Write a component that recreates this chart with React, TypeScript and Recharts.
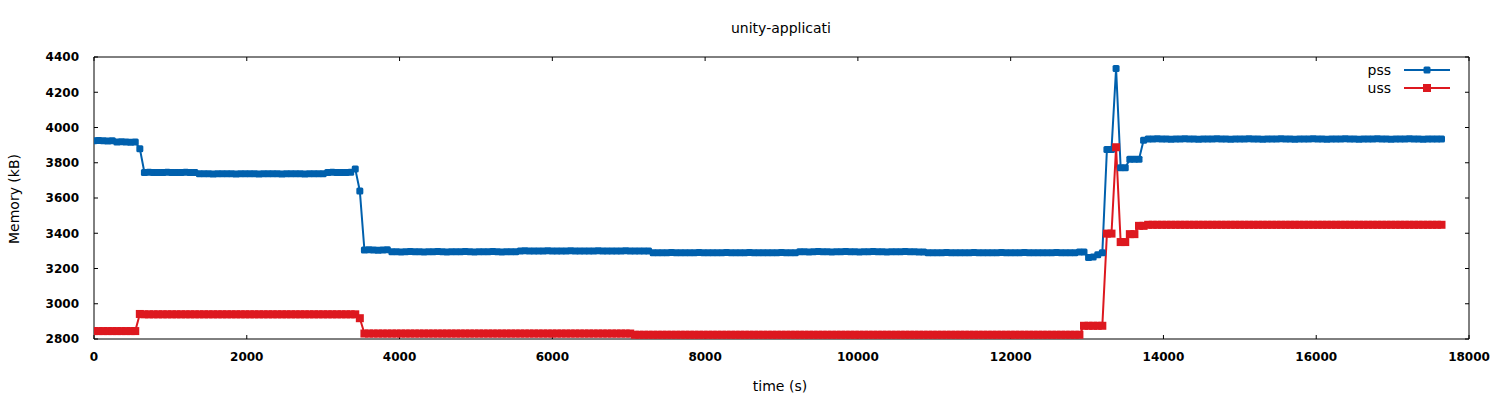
import React from 'react';
import { LineChart, Line, XAxis, YAxis } from 'recharts';

const PSS_COLOR = '#0060ad';
const USS_COLOR = '#dd181f';
const FONT = '"DejaVu Sans", sans-serif';

// one sample per minute (seconds between samples)
const SAMPLE_SECONDS = 60;

const pss = [
  3925, 3926, 3925, 3924, 3925, 3918, 3919, 3918, 3917, 3918,
  3880, 3745, 3746, 3745, 3744, 3745, 3746, 3745, 3744, 3745,
  3746, 3745, 3745, 3737, 3738, 3737, 3736, 3737, 3738, 3737,
  3737, 3736, 3737, 3738, 3737, 3737, 3736, 3737, 3738, 3737,
  3737, 3736, 3737, 3737, 3738, 3737, 3736, 3737, 3737, 3738,
  3737, 3745, 3746, 3745, 3744, 3745, 3746, 3765, 3640, 3305,
  3306, 3305, 3304, 3305, 3306, 3295, 3295, 3294, 3295, 3296,
  3295, 3295, 3294, 3295, 3295, 3296, 3295, 3294, 3295, 3295,
  3295, 3296, 3295, 3294, 3295, 3295, 3295, 3296, 3295, 3294,
  3295, 3295, 3295, 3300, 3301, 3300, 3299, 3300, 3300, 3301,
  3300, 3300, 3299, 3300, 3301, 3300, 3300, 3300, 3299, 3300,
  3301, 3300, 3300, 3299, 3300, 3300, 3301, 3300, 3300, 3299,
  3300, 3300, 3290, 3290, 3289, 3290, 3291, 3290, 3290, 3289,
  3290, 3290, 3291, 3290, 3289, 3290, 3290, 3290, 3291, 3290,
  3289, 3290, 3290, 3291, 3290, 3290, 3289, 3290, 3290, 3290,
  3291, 3290, 3289, 3290, 3295, 3295, 3294, 3295, 3296, 3295,
  3295, 3294, 3295, 3295, 3296, 3295, 3295, 3294, 3295, 3295,
  3296, 3295, 3295, 3294, 3295, 3295, 3295, 3296, 3295, 3295,
  3293, 3293, 3290, 3290, 3289, 3290, 3291, 3290, 3290, 3289,
  3290, 3290, 3291, 3290, 3289, 3290, 3290, 3290, 3291, 3290,
  3289, 3290, 3290, 3291, 3290, 3290, 3289, 3290, 3290, 3290,
  3291, 3290, 3289, 3290, 3290, 3293, 3293, 3262, 3265, 3278,
  3290, 3875, 3875, 4335, 3772, 3772, 3820, 3820, 3820, 3928,
  3935, 3935, 3936, 3935, 3935, 3934, 3935, 3935, 3936, 3935,
  3935, 3934, 3935, 3935, 3935, 3936, 3935, 3935, 3934, 3935,
  3935, 3935, 3936, 3935, 3935, 3934, 3935, 3935, 3935, 3936,
  3935, 3935, 3934, 3935, 3935, 3935, 3936, 3935, 3935, 3934,
  3935, 3935, 3935, 3936, 3935, 3935, 3934, 3935, 3935, 3935,
  3936, 3935, 3935, 3934, 3935, 3935, 3935, 3936, 3935, 3935,
  3934, 3935, 3935, 3935, 3935,
];

const uss = [
  2845, 2845, 2845, 2845, 2845, 2845, 2845, 2845, 2845, 2845,
  2942, 2940, 2940, 2940, 2940, 2940, 2940, 2940, 2940, 2940,
  2940, 2940, 2940, 2940, 2940, 2940, 2940, 2940, 2940, 2940,
  2940, 2940, 2940, 2940, 2940, 2940, 2940, 2940, 2940, 2940,
  2940, 2940, 2940, 2940, 2940, 2940, 2940, 2940, 2940, 2940,
  2940, 2940, 2940, 2940, 2940, 2940, 2940, 2940, 2918, 2831,
  2831, 2831, 2831, 2831, 2831, 2831, 2831, 2831, 2831, 2831,
  2831, 2831, 2831, 2831, 2831, 2831, 2831, 2831, 2831, 2831,
  2831, 2831, 2831, 2831, 2831, 2831, 2831, 2831, 2831, 2831,
  2831, 2831, 2831, 2831, 2831, 2831, 2831, 2831, 2831, 2831,
  2831, 2831, 2831, 2831, 2831, 2831, 2831, 2831, 2831, 2831,
  2831, 2831, 2831, 2831, 2831, 2831, 2831, 2831, 2824, 2824,
  2824, 2824, 2824, 2824, 2824, 2824, 2824, 2824, 2824, 2824,
  2824, 2824, 2824, 2824, 2824, 2824, 2824, 2824, 2824, 2824,
  2824, 2824, 2824, 2824, 2824, 2824, 2824, 2824, 2824, 2824,
  2824, 2824, 2824, 2824, 2824, 2824, 2824, 2824, 2824, 2824,
  2824, 2824, 2824, 2824, 2824, 2824, 2824, 2824, 2824, 2824,
  2824, 2824, 2824, 2824, 2824, 2824, 2824, 2824, 2824, 2824,
  2824, 2824, 2824, 2824, 2824, 2824, 2824, 2824, 2824, 2824,
  2824, 2824, 2824, 2824, 2824, 2824, 2824, 2824, 2824, 2824,
  2824, 2824, 2824, 2824, 2824, 2824, 2824, 2824, 2824, 2824,
  2824, 2824, 2824, 2824, 2824, 2824, 2875, 2875, 2875, 2875,
  2875, 3398, 3398, 3888, 3350, 3350, 3395, 3395, 3442, 3442,
  3448, 3448, 3448, 3448, 3448, 3448, 3448, 3448, 3448, 3448,
  3448, 3448, 3448, 3448, 3448, 3448, 3448, 3448, 3448, 3448,
  3448, 3448, 3448, 3448, 3448, 3448, 3448, 3448, 3448, 3448,
  3448, 3448, 3448, 3448, 3448, 3448, 3448, 3448, 3448, 3448,
  3448, 3448, 3448, 3448, 3448, 3448, 3448, 3448, 3448, 3448,
  3448, 3448, 3448, 3448, 3448, 3448, 3448, 3448, 3448, 3448,
  3448, 3448, 3448, 3448, 3448,
];

const timeTicks = [0, 2000, 4000, 6000, 8000, 10000, 12000, 14000, 16000, 18000];
const memoryTicks = [2800, 3000, 3200, 3400, 3600, 3800, 4000, 4200, 4400];

const data = pss.map((v, i) => ({ t: i * SAMPLE_SECONDS, pss: v, uss: uss[i] }));

const tickStyle = { fill: '#000', fontSize: 12, fontWeight: 'bold', fontFamily: FONT };
const blank = () => '';

// gnuplot-ish point shapes
const PssDot = (props: any) => {
  const { cx, cy, index } = props;
  if (cx == null || cy == null) return <g key={`pt-${index}`} />;
  return <rect key={`pt-${index}`} x={cx - 3.5} y={cy - 3.5} width={7} height={7} rx={1.5} fill={PSS_COLOR} />;
};

const SquareDot = (props: any) => {
  const { cx, cy, index } = props;
  if (cx == null || cy == null) return <g key={`sq-${index}`} />;
  return <rect key={`sq-${index}`} x={cx - 4} y={cy - 4} width={8} height={8} fill={USS_COLOR} />;
};

const labelStyle: React.CSSProperties = {
  position: 'absolute',
  fontFamily: FONT,
  fontSize: 14,
  color: '#000',
  lineHeight: '16px',
  whiteSpace: 'nowrap',
};

export default function App() {
  return (
    <div style={{ position: 'absolute', left: 0, top: 0, width: 1500, height: 400, background: '#fff' }}>
      <LineChart width={1500} height={400} data={data} margin={{ top: 56, right: 30, bottom: 21, left: 0 }}>
        <XAxis
          dataKey="t"
          type="number"
          domain={[0, 18000]}
          ticks={timeTicks}
          height={40}
          stroke="#000"
          tickSize={-4}
          tickMargin={17}
          tick={tickStyle}
          allowDataOverflow
        />
        <XAxis
          xAxisId="top"
          orientation="top"
          dataKey="t"
          type="number"
          domain={[0, 18000]}
          ticks={timeTicks}
          height={1}
          stroke="#000"
          tickSize={-4}
          tickFormatter={blank}
          allowDataOverflow
        />
        <YAxis
          type="number"
          domain={[2800, 4400]}
          ticks={memoryTicks}
          width={94}
          stroke="#000"
          tickSize={-4}
          tickMargin={19}
          tick={tickStyle}
          allowDataOverflow
        />
        <YAxis
          yAxisId="right"
          orientation="right"
          type="number"
          domain={[2800, 4400]}
          ticks={memoryTicks}
          width={1}
          stroke="#000"
          tickSize={-4}
          tickFormatter={blank}
          allowDataOverflow
        />
        <Line
          dataKey="pss"
          type="linear"
          stroke={PSS_COLOR}
          strokeWidth={2}
          dot={PssDot}
          isAnimationActive={false}
        />
        <Line
          dataKey="uss"
          xAxisId="top"
          yAxisId="right"
          type="linear"
          stroke={USS_COLOR}
          strokeWidth={2}
          dot={SquareDot}
          isAnimationActive={false}
        />
      </LineChart>

      <div style={{ ...labelStyle, left: 681, width: 200, top: 20, textAlign: 'center' }}>unity-applicati</div>
      <div style={{ ...labelStyle, left: 680, width: 200, top: 378, textAlign: 'center' }}>time (s)</div>
      <div
        style={{
          ...labelStyle,
          left: 14 - 60,
          top: 199 - 8,
          width: 120,
          textAlign: 'center',
          transform: 'rotate(-90deg)',
        }}
      >
        Memory (kB)
      </div>

      <svg style={{ position: 'absolute', left: 1340, top: 58 }} width={120} height={40}>
        <text x={51} y={17} textAnchor="end" fontFamily={FONT} fontSize={14} fill="#000">pss</text>
        <line x1={64} x2={110} y1={12} y2={12} stroke={PSS_COLOR} strokeWidth={2} />
        <rect x={83.5} y={8.5} width={7} height={7} rx={1.5} fill={PSS_COLOR} />
        <text x={51} y={35} textAnchor="end" fontFamily={FONT} fontSize={14} fill="#000">uss</text>
        <line x1={64} x2={110} y1={30} y2={30} stroke={USS_COLOR} strokeWidth={2} />
        <rect x={83} y={26} width={8} height={8} fill={USS_COLOR} />
      </svg>
    </div>
  );
}
